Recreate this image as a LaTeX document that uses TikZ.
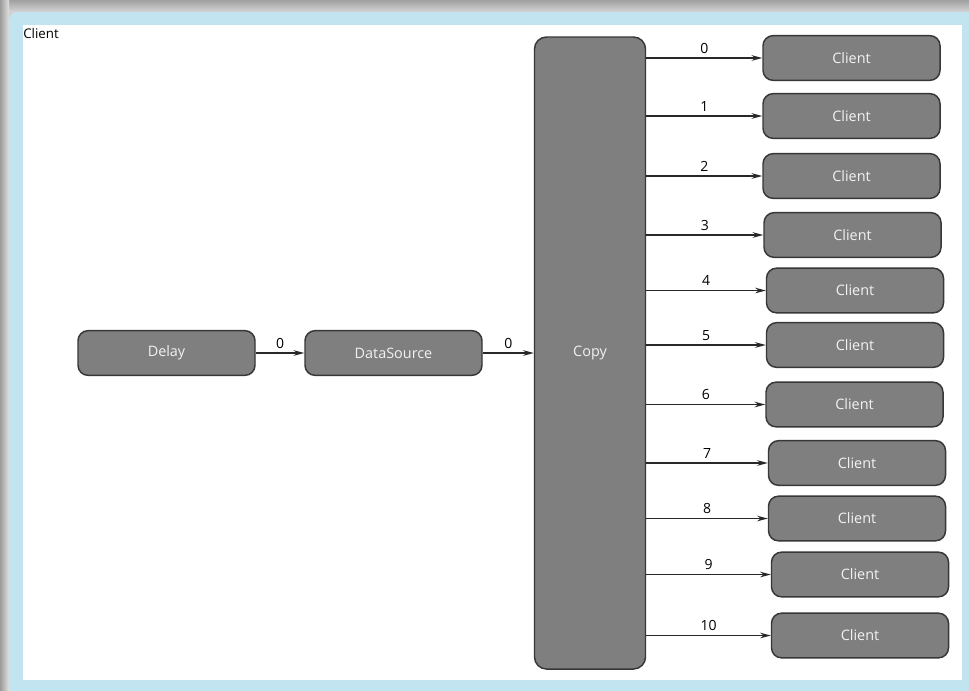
\documentclass[tikz,border=0pt]{standalone}
\usepackage{fontspec}
\setmainfont{Open Sans}
\usetikzlibrary{arrows.meta}
\definecolor{frameblue}{RGB}{194,228,240}
\definecolor{boxfill}{RGB}{127,127,127}
\definecolor{boxline}{RGB}{55,55,55}
\definecolor{boxtext}{RGB}{242,242,242}
\definecolor{edgeline}{RGB}{40,40,40}
\definecolor{shadebase}{RGB}{205,205,205}
\definecolor{shadetop}{RGB}{160,160,160}
\definecolor{shadebot}{RGB}{212,212,212}
\definecolor{shadeleft}{RGB}{155,155,155}
\definecolor{shaderight}{RGB}{225,225,225}
\tikzset{
  blockbox/.style={draw=boxline, line width=1.1pt, fill=boxfill, rounded corners=7.5pt,
    text=boxtext, font=\fontsize{10.8}{13}\selectfont, inner sep=0pt},
  smallbox/.style={blockbox, minimum width=132.75pt, minimum height=33.5pt},
  clientbox/.style={blockbox, minimum width=132.75pt, minimum height=33.5pt},
  flow/.style={draw=edgeline, line width=1pt, -{Stealth[length=8pt,width=4.2pt]}},
  flowlabel/.style={font=\fontsize{10.5}{12}\selectfont, text=black, inner sep=1pt, above=2pt}
}
\begin{document}
\begin{tikzpicture}[x=0.75pt,y=-0.75pt]
\useasboundingbox (0,0) rectangle (969,690);
\begin{scope}
\clip (0,0) rectangle (969,690);
\fill[shadebase] (0,0) rectangle (969,690);
\shade[top color=shadetop, bottom color=shadebot] (0,0) rectangle (969,12);
\shade[left color=shadeleft, right color=shaderight] (0,0) rectangle (9,690);
\fill[frameblue, rounded corners=6pt] (9,12) rectangle (990,705);
\fill[white] (23,25) rectangle (962,680);
\end{scope}

\node[anchor=north west, inner sep=0pt, font=\fontsize{10}{12}\selectfont] (title) at (23,28) {Client};

\node[smallbox] (delay) at (166.5,353) {Delay};
\node[smallbox] (ds) at (393.5,353) {DataSource};
\node[blockbox, rounded corners=9pt, minimum width=83.25pt, minimum height=474pt] (copy) at (590,353) {Copy};

\node[clientbox] (c0) at (851.5,58) {Client};
\node[clientbox] (c1) at (851.5,116) {Client};
\node[clientbox] (c2) at (851.5,176) {Client};
\node[clientbox] (c3) at (852.5,235) {Client};
\node[clientbox] (c4) at (855,290.5) {Client};
\node[clientbox] (c5) at (855,345) {Client};
\node[clientbox] (c6) at (854.5,404.5) {Client};
\node[clientbox] (c7) at (857,463) {Client};
\node[clientbox] (c8) at (857,518.5) {Client};
\node[clientbox] (c9) at (860,574.5) {Client};
\node[clientbox] (c10) at (860,635.5) {Client};

\draw[flow] (delay.east) -- node[flowlabel] {0} (ds.west);
\draw[flow] (ds.east) -- node[flowlabel] {0} (copy.west |- ds.east);

\foreach \i in {0,...,10} {
  \draw[flow] (copy.east |- c\i.west) -- node[flowlabel] {\i} (c\i.west);
}
\end{tikzpicture}
\end{document}
